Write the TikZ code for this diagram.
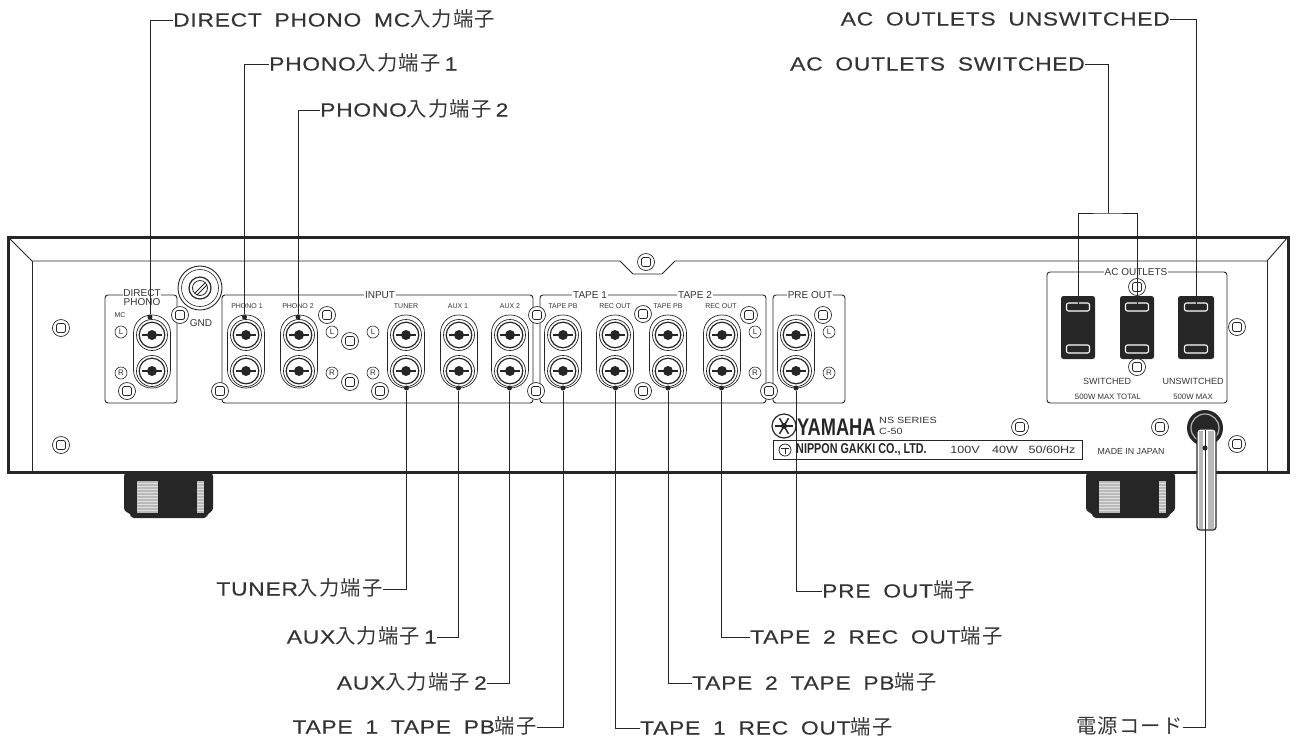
\documentclass[tikz,border=0pt]{standalone}
\usepackage{fontspec}
\setmainfont{Liberation Sans}
\newfontfamily\calloutfont[FakeStretch=1.2,FakeBold=.25,LetterSpace=4,WordSpace=1.8]{Liberation Sans}
\newfontfamily\jpfont[LetterSpace=6]{Noto Sans CJK JP}
\newfontfamily\brandfont[FakeStretch=.76]{Liberation Sans}
\newfontfamily\widefont[FakeStretch=1.2]{Liberation Sans}
\newcommand{\fsz}[1]{\fontsize{#1}{#1}\selectfont}
\newcommand{\jp}[1]{{\jpfont\fsz{20.3}#1}}
\definecolor{inkDark}{HTML}{262626}
\definecolor{inkText}{HTML}{343434}
\begin{document}
\begin{tikzpicture}[x=1pt,y=-1pt,
    callout/.style={font=\calloutfont\fsz{19}, text=inkText, inner sep=0pt, text height=13pt, text depth=0pt},
    lead/.style={draw=inkDark, line width=1pt},
    jackdot/.style={circle, fill=inkDark, inner sep=0pt, minimum size=5pt},
    groupbox/.style={draw=inkDark, line width=.9pt, rounded corners=3pt},
    grouptitle/.style={font=\fsz{10}, fill=white, text=inkText, inner sep=1pt, align=center},
    smalltxt/.style={font=\fsz{7}, text=inkText, inner sep=0pt},
    screw/.style={circle, draw=inkDark, fill=white, line width=.7pt, inner sep=0pt, minimum size=17pt},
    lrmark/.style={circle, draw=inkDark, fill=white, line width=.6pt, inner sep=0pt, minimum size=12pt, font=\fsz{8}, text=inkText},
    slot/.style={draw=white, line width=1.1pt, fill=inkDark, rounded corners=2pt, inner sep=0pt, minimum width=23pt, minimum height=8pt}]
  \useasboundingbox (0,0) rectangle (1298,740);
  % cabinet
  \draw[inkDark, line width=3pt] (8,237) rectangle (1288,472);
  \draw[inkDark, line width=.9pt] (8,237) -- (32,261) -- (620,261) -- (633,274) -- (662,274) -- (675,261) -- (1267,261) -- (1288,237);
  \draw[inkDark, line width=.9pt] (32,261) -- (32,472);
  \draw[inkDark, line width=.9pt] (1267,261) -- (1267,472);
  % feet
  \foreach \dx in {0,962} {
    \fill[inkDark, rounded corners=3pt] (124+\dx,473) -- (124+\dx,511) -- (131+\dx,514) -- (131+\dx,518) -- (207+\dx,518) -- (207+\dx,514) -- (213+\dx,511) -- (213+\dx,473) -- cycle;
    \fill[gray!55] (137+\dx,481) rectangle (158+\dx,513);
    \fill[gray!55] (197+\dx,481) rectangle (204+\dx,513);
    \foreach \ry in {483,486,...,511} {
      \draw[gray!25, line width=.6pt] (137+\dx,\ry) -- (158+\dx,\ry);
      \draw[gray!25, line width=.6pt] (197+\dx,\ry) -- (204+\dx,\ry);
    }
  }
  % groups
  \draw[groupbox] (105,295) rectangle (177,403);
  \draw[groupbox] (222,295) rectangle (533,403);
  \draw[groupbox] (540,295) rectangle (766,403);
  \draw[groupbox] (773,295) rectangle (845,403);
  \draw[groupbox] (1047,272) rectangle (1227,403);
  \node[grouptitle, anchor=north, inner sep=0pt] (tdirect) at (142,289) {DIRECT\\[-.5pt]PHONO};
  \node[grouptitle] (tinput) at (380,295) {INPUT};
  \node[grouptitle] (ttapea) at (590,295) {TAPE 1};
  \node[grouptitle] (ttapeb) at (695,295) {TAPE 2};
  \node[grouptitle] (tpre) at (810,295) {PRE OUT};
  \node[grouptitle] (tac) at (1136,272) {AC OUTLETS};
  % jacks
  \foreach \n/\x in {dp/152,pa/246,pb/299,tu/406,aa/459,ab/510,ta/563,tb/615,tc/668,td/722,po/796} {
    \draw[inkDark, line width=.7pt, rounded corners=18pt] (\x-18.5,315) rectangle (\x+18.5,388);
    \foreach \jy in {335,371} {
      \draw[inkDark, line width=.7pt] (\x,\jy) circle (15.5);
      \draw[inkDark, line width=1.2pt] (\x,\jy) circle (12.8);
      \draw[inkDark, line width=1.1pt] (\x-10,\jy) -- (\x+10,\jy);
      \fill[inkDark] (\x,\jy) circle (5);
    }
  }
  % jack titles
  \node[smalltxt] (nmc) at (120,315) {MC};
  \node[smalltxt] (npa) at (247,306) {PHONO 1};
  \node[smalltxt] (npb) at (298,306) {PHONO 2};
  \node[smalltxt] (ntu) at (406,306) {TUNER};
  \node[smalltxt] (naa) at (458,306) {AUX 1};
  \node[smalltxt] (nab) at (510,306) {AUX 2};
  \node[smalltxt] (nta) at (563,306) {TAPE PB};
  \node[smalltxt] (ntb) at (615,306) {REC OUT};
  \node[smalltxt] (ntc) at (668,306) {TAPE PB};
  \node[smalltxt] (ntd) at (721,306) {REC OUT};
  % channel marks
  \foreach \x in {121,332,373,755,829} {
    \node[lrmark] (ml\x) at (\x,332) {L};
    \node[lrmark] (mr\x) at (\x,373) {R};
  }
  % GND terminal
  \draw[inkDark, line width=.9pt, fill=white] (200,288) circle (22);
  \draw[inkDark, line width=.6pt] (200,288) circle (18.5);
  \draw[inkDark, line width=1.2pt] (200,288) circle (11);
  \draw[inkDark, line width=.8pt] (200,288) circle (7.5);
  \draw[inkDark, line width=1pt] (195,293) -- (205,283);
  \draw[inkDark, line width=1pt] (197,295) -- (207,285);
  \node[font=\fsz{10}, text=inkText, inner sep=0pt] (ngnd) at (201,323) {GND};
  % screws
  \foreach \x/\y [count=\i] in {61/328,61/445,180/315,127/391,220/391,327/315,350/341,350/382,380/391,537/315,536/391,643/314,643/391,749/315,769/391,823/315,646/262,1237/327,1137/287,1137/367,1020/427,1160/427,1237/444} {
    \node[screw] (s\i) at (\x,\y) {};
    \draw[inkDark, line width=.7pt, rounded corners=1.5pt] (\x-4.5,\y-4.5) rectangle (\x+4.5,\y+4.5);
  }
  % outlets
  \foreach \n/\x/\w in {a/1078/17,b/1137/17,c/1196/18} {
    \fill[inkDark, rounded corners=2.5pt] (\x-\w,296) rectangle (\x+\w,359);
    \node[slot] (up\n) at (\x,307) {};
    \node[slot] (lo\n) at (\x,349) {};
  }
  \node[font=\fsz{9}, text=inkText, inner sep=0pt] (nsw) at (1107,381) {SWITCHED};
  \node[font=\fsz{9}, text=inkText, inner sep=0pt] (nun) at (1193,381) {UNSWITCHED};
  \node[font=\fsz{7.8}, text=inkText, inner sep=0pt] (nma) at (1108,397) {500W MAX TOTAL};
  \node[font=\fsz{7.8}, text=inkText, inner sep=0pt] (nmb) at (1193,397) {500W MAX};
  % name plate
  \draw[inkDark, line width=1.2pt] (784,426) circle (12);
  \foreach \a in {0,60,120} \draw[inkDark, line width=1.5pt] (784,426) ++(\a:9) -- ++(\a+180:18);
  \fill[inkDark] (784,426) circle (3);
  \node[font=\brandfont\bfseries\fsz{24}, text=inkDark, anchor=west, inner sep=0pt] (nya) at (797,427) {YAMAHA};
  \node[font=\widefont\fsz{9}, text=inkText, anchor=west, inner sep=0pt] (nns) at (879,420) {NS SERIES};
  \node[font=\widefont\fsz{9}, text=inkText, anchor=west, inner sep=0pt] (nmo) at (879,431.5) {C-50};
  \draw[inkDark, line width=.9pt] (773,440) rectangle (1082,459);
  \draw[inkDark, line width=.8pt] (785,450) circle (6);
  \draw[inkDark, line width=.8pt] (781,448) -- (789,448) (785,448) -- (785,454);
  \node[font=\brandfont\bfseries\fsz{14.2}, text=inkDark, anchor=west, inner sep=0pt] (nni) at (796,450) {NIPPON GAKKI CO., LTD.};
  \node[font=\widefont\fsz{10.5}, text=inkText, inner sep=0pt] (nvo) at (965,450) {100V};
  \node[font=\widefont\fsz{10.5}, text=inkText, inner sep=0pt] (nwa) at (1005,450) {40W};
  \node[font=\widefont\fsz{10.5}, text=inkText, inner sep=0pt] (nhz) at (1052,450) {50/60Hz};
  \node[font=\fsz{8.8}, text=inkText, inner sep=0pt] (nja) at (1131,452) {MADE IN JAPAN};
  % cord
  \fill[inkDark] (1205,428) circle (18);
  \draw[gray!60, line width=1.2pt] (1205,428) circle (14);
  \draw[inkDark, line width=1.2pt, fill=white, rounded corners=3pt] (1197,530) -- (1197,429) -- (1216,429) -- (1216,530) -- cycle;
  \fill[gray!55] (1199,431) rectangle (1203,529);
  \fill[gray!55] (1208,431) rectangle (1214,529);
  \draw[inkDark, line width=1pt] (1205,430) -- (1205,530);
  % connection points
  \node[jackdot] (jdp) at (150,317) {};
  \node[jackdot] (jpa) at (244.5,317) {};
  \node[jackdot] (jpb) at (298,317) {};
  \foreach \n/\x in {tu/406.5,aa/458.5,ab/509.5,ta/563,tb/615.5,tc/668,td/721.5,po/796} {
    \node[jackdot] (j\n) at (\x,388) {};
  }
  \node[jackdot] (jcd) at (1205,448) {};
  \coordinate (bar) at (1108,213);
  % callouts
  \node[callout, anchor=west] (ldp) at (173,20) {DIRECT PHONO MC\jp{入力端子}};
  \node[callout, anchor=west] (lpa) at (269,64) {PHONO\jp{入力端子}\kern4pt 1};
  \node[callout, anchor=west] (lpb) at (320,110) {PHONO\jp{入力端子}\kern4pt 2};
  \node[callout, anchor=east] (lun) at (1170,19) {AC OUTLETS UNSWITCHED};
  \node[callout, anchor=east] (lsw) at (1085,64) {AC OUTLETS SWITCHED};
  \node[callout, anchor=east] (ltu) at (383,589) {TUNER\jp{入力端子}};
  \node[callout, anchor=east] (laa) at (437,637) {AUX\jp{入力端子}\kern4pt 1};
  \node[callout, anchor=east] (lab) at (487,683) {AUX\jp{入力端子}\kern4pt 2};
  \node[callout, anchor=east] (lta) at (537,727) {TAPE 1 TAPE PB\jp{端子}};
  \node[callout, anchor=west] (ltb) at (640,728) {TAPE 1 REC OUT\jp{端子}};
  \node[callout, anchor=west] (ltc) at (692,683) {TAPE 2 TAPE PB\jp{端子}};
  \node[callout, anchor=west] (ltd) at (750,637) {TAPE 2 REC OUT\jp{端子}};
  \node[callout, anchor=west] (lpo) at (822,591) {PRE OUT\jp{端子}};
  \node[callout, anchor=east] (lcd) at (1183,727) {\jp{電源コード}};
  % leaders
  \draw[lead] (ldp.west) -| (jdp);
  \draw[lead] (lpa.west) -| (jpa);
  \draw[lead] (lpb.west) -| (jpb);
  \draw[lead] (ltu.east) -| (jtu);
  \draw[lead] (laa.east) -| (jaa);
  \draw[lead] (lab.east) -| (jab);
  \draw[lead] (lta.east) -| (jta);
  \draw[lead] (ltb.west) -| (jtb);
  \draw[lead] (ltc.west) -| (jtc);
  \draw[lead] (ltd.west) -| (jtd);
  \draw[lead] (lpo.west) -| (jpo);
  \draw[lead] (lcd.east) -| (jcd);
  \draw[lead] (lun.east) -| (upc.center);
  \draw[lead] (lsw.east) -| (bar);
  \draw[lead] (upa.center) |- (bar) -| (upb.center);
\end{tikzpicture}
\end{document}
